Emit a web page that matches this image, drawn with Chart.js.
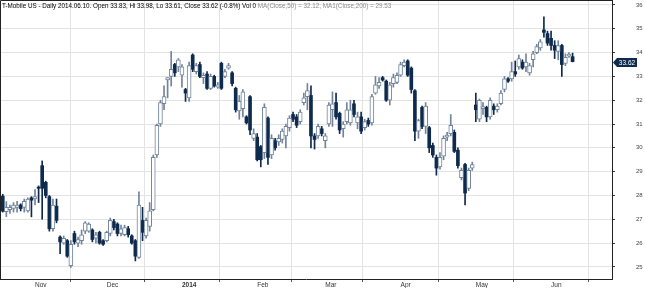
<!DOCTYPE html>
<html lang="en">
<head>
<meta charset="UTF-8">
<title>T-Mobile US - Daily</title>
<script src="https://cdn.jsdelivr.net/npm/chart.js@4.4.0/dist/chart.umd.min.js"></script>
<style>
  html, body { margin: 0; padding: 0; background: #fff; }
  canvas { display: block; }
</style>
</head>
<body>
<canvas id="tmus" width="645" height="288"></canvas>
<script>
// daily OHLC, 2013-10-21 .. 2014-06-10, one entry per trading day
const opens = [
  27.97, 27.32, 27.40, 27.45, 27.50, 27.60, 27.50, 27.35, 27.90, 27.85,
  28.35, 29.25, 28.55, 27.95, 26.60, 27.55, 26.25, 26.00, 26.10, 25.05,
  26.40, 26.00, 26.10, 26.50, 26.50, 26.55, 26.20, 26.45, 26.10, 26.10,
  26.40, 26.90, 26.80, 26.40, 26.35, 26.60, 26.30, 26.10, 25.40, 26.95,
  26.30, 26.70, 27.40, 29.70, 31.00, 31.85, 32.85, 33.00, 33.50, 33.40,
  33.05, 32.45, 32.10, 33.90, 33.20, 33.50, 32.95, 33.10, 32.50, 33.00,
  32.55, 33.55, 33.00, 33.35, 33.15, 32.50, 31.55, 31.65, 31.30, 32.15,
  30.40, 30.45, 30.05, 29.80, 31.25, 29.70, 30.30, 30.25, 30.35, 30.50,
  30.85, 31.40, 31.30, 31.10, 31.90, 32.15, 32.20, 30.50, 30.50, 30.80,
  30.30, 31.00, 31.60, 31.90, 31.45, 30.80, 31.10, 31.05, 31.85, 31.05,
  31.30, 30.85, 31.15, 31.05, 32.30, 32.60, 32.95, 32.80, 32.00, 32.70,
  32.75, 33.05, 33.45, 33.65, 33.35, 32.40, 30.70, 31.70, 30.90, 30.85,
  30.10, 29.60, 29.20, 29.65, 30.45, 30.60, 30.65, 29.90, 28.75, 29.30,
  28.30, 29.15, 31.80, 31.20, 31.65, 31.70, 31.30, 31.75, 31.60, 31.85,
  32.45, 32.90, 32.90, 33.20, 33.40, 33.60, 33.40, 33.15, 33.70, 34.00,
  34.20, 34.95, 34.80, 34.60, 34.30, 34.05, 34.30, 33.55, 33.85, 33.83
];
const highs = [
  28.05, 27.74, 27.60, 27.70, 27.75, 27.65, 27.85, 27.90, 27.95, 28.25,
  28.40, 29.45, 28.60, 28.00, 27.85, 27.85, 26.30, 26.30, 26.15, 26.10,
  26.50, 26.25, 26.55, 26.90, 26.85, 26.60, 26.45, 26.50, 26.15, 26.50,
  27.05, 27.00, 26.85, 26.75, 26.75, 26.70, 26.35, 26.15, 28.15, 27.50,
  27.05, 27.70, 29.70, 31.00, 32.00, 32.60, 32.95, 34.05, 33.55, 33.75,
  33.50, 32.50, 33.60, 33.95, 33.55, 33.60, 33.15, 33.20, 33.10, 33.05,
  32.75, 33.60, 33.30, 33.55, 33.20, 32.55, 32.20, 32.45, 31.35, 32.20,
  30.80, 30.60, 30.10, 31.85, 31.30, 30.55, 30.40, 30.55, 30.80, 31.00,
  31.35, 31.50, 31.40, 31.60, 32.30, 32.70, 32.60, 30.60, 31.00, 30.90,
  30.60, 31.90, 32.35, 32.30, 31.50, 31.10, 31.90, 32.00, 32.00, 31.50,
  31.50, 31.20, 31.25, 32.25, 33.00, 32.95, 33.00, 32.85, 32.75, 33.10,
  33.15, 33.60, 33.70, 33.70, 33.40, 32.45, 31.20, 31.75, 31.90, 30.90,
  30.20, 29.70, 29.80, 30.50, 30.65, 31.40, 30.75, 30.00, 29.15, 29.35,
  29.15, 29.40, 32.30, 32.05, 31.90, 31.75, 32.10, 31.85, 31.85, 32.40,
  33.00, 32.95, 33.60, 33.65, 33.90, 33.70, 33.95, 33.55, 34.05, 34.35,
  34.55, 35.50, 34.90, 34.90, 34.50, 34.50, 34.35, 33.95, 34.00, 33.98
];
const lows = [
  27.30, 27.11, 27.25, 27.30, 27.30, 27.35, 27.30, 27.30, 27.10, 27.60,
  27.70, 27.00, 27.90, 26.50, 26.50, 26.85, 25.55, 25.95, 25.40, 24.98,
  25.95, 25.85, 25.95, 26.40, 26.45, 26.05, 26.00, 25.95, 25.90, 26.05,
  26.30, 26.55, 26.30, 26.30, 26.30, 26.25, 25.95, 25.25, 25.35, 26.10,
  26.20, 26.50, 27.35, 29.60, 30.90, 31.60, 32.10, 32.60, 33.00, 33.20,
  32.55, 31.95, 31.95, 33.20, 33.10, 32.95, 32.70, 32.45, 32.45, 32.55,
  32.50, 32.45, 32.95, 33.30, 32.60, 31.50, 31.20, 31.30, 31.00, 30.55,
  30.30, 29.45, 29.20, 29.55, 29.30, 29.55, 29.90, 30.10, 30.20, 30.00,
  30.70, 31.10, 30.85, 31.00, 31.80, 31.60, 30.00, 29.95, 30.40, 30.50,
  30.00, 30.90, 30.90, 31.20, 30.60, 30.45, 31.00, 30.95, 31.30, 30.80,
  30.60, 30.75, 30.90, 30.95, 32.25, 32.50, 32.80, 31.95, 31.80, 32.55,
  32.70, 33.00, 33.40, 33.00, 32.30, 30.30, 30.40, 30.80, 30.60, 29.80,
  29.60, 28.85, 29.10, 29.50, 30.30, 30.50, 29.80, 29.15, 28.65, 27.60,
  28.20, 29.05, 31.10, 31.10, 31.40, 31.10, 31.20, 31.40, 31.50, 31.80,
  32.35, 32.75, 32.80, 33.00, 33.30, 33.30, 33.20, 33.05, 33.40, 33.95,
  34.10, 34.65, 34.30, 34.10, 33.75, 33.70, 33.00, 33.45, 33.80, 33.61
];
const closes = [
  27.34, 27.50, 27.50, 27.60, 27.60, 27.45, 27.75, 27.85, 27.80, 27.95,
  28.30, 28.30, 28.00, 26.60, 27.60, 26.95, 26.05, 26.20, 25.45, 25.95,
  26.05, 26.15, 26.35, 26.85, 26.80, 26.15, 26.35, 26.00, 25.95, 26.45,
  26.95, 26.65, 26.40, 26.60, 26.65, 26.35, 26.00, 25.45, 27.60, 26.45,
  26.95, 27.35, 29.60, 30.95, 31.90, 32.15, 32.95, 33.30, 33.15, 33.70,
  33.40, 32.30, 33.45, 33.30, 33.45, 33.00, 33.05, 32.50, 33.00, 32.60,
  32.65, 32.50, 33.20, 33.45, 32.70, 31.60, 31.95, 32.35, 31.05, 30.75,
  30.60, 29.50, 29.50, 31.70, 29.60, 30.40, 30.00, 30.40, 30.70, 30.90,
  31.25, 31.20, 30.95, 31.50, 32.10, 32.40, 30.50, 30.35, 30.90, 30.60,
  30.50, 31.80, 31.85, 31.30, 30.75, 31.00, 31.60, 31.60, 31.40, 31.30,
  30.70, 31.10, 31.00, 32.15, 32.65, 32.75, 32.85, 32.00, 32.65, 32.95,
  33.05, 33.50, 33.60, 33.05, 32.45, 30.70, 31.15, 30.90, 31.75, 30.00,
  29.70, 29.15, 29.60, 30.40, 30.50, 30.95, 29.85, 29.25, 29.05, 28.10,
  29.05, 29.30, 31.60, 32.00, 31.70, 31.30, 32.00, 31.60, 31.75, 32.30,
  32.90, 32.80, 33.20, 33.10, 33.75, 33.35, 33.60, 33.45, 33.95, 34.25,
  34.45, 34.85, 34.40, 34.30, 34.10, 34.30, 33.50, 33.80, 33.90, 33.62
];

// first trading day of each month (index into the arrays above)
const monthTicks = [9, 29, 50, 71, 90, 111, 132, 153];
const monthLabels = ['Nov', 'Dec', '2014', 'Feb', 'Mar', 'Apr', 'May', 'Jun'];
const priceTicks = [25, 26, 27, 28, 29, 30, 31, 32, 33, 34, 35, 36];

const headline = 'T-Mobile US - Daily 2014.06.10. Open 33.83, Hi 33.98, Lo 33.61, Close 33.62 (-0.8%) Vol 0';
const studies = 'MA(Close,50) = 32.12, MA1(Close,200) = 29.53';

const NAVY = '#0e2a4c';
const HOLLOW = '#71849b';
const FONT = "'Liberation Sans', Arial, sans-serif";

const wicks = [], wickColors = [], upBodies = [], downBodies = [];
for (let i = 0; i < closes.length; i++) {
  const up = closes[i] >= opens[i];
  wicks.push({ x: i, y: [lows[i], highs[i]] });
  wickColors.push(up ? HOLLOW : NAVY);
  const body = { x: i, y: [Math.min(opens[i], closes[i]), Math.max(opens[i], closes[i])] };
  (up ? upBodies : downBodies).push(body);
}

// left/top frame, header text and last price marker
const decorations = {
  id: 'decorations',
  afterDraw(chart) {
    const { ctx, chartArea: a } = chart;
    const y = chart.scales.y;
    ctx.save();
    ctx.strokeStyle = '#222';
    ctx.lineWidth = 1;
    ctx.beginPath();
    ctx.moveTo(0.5, a.bottom);
    ctx.lineTo(0.5, 0.5);
    ctx.lineTo(a.right, 0.5);
    ctx.stroke();

    ctx.font = '6.3px ' + FONT;
    ctx.textBaseline = 'alphabetic';
    ctx.fillStyle = '#000';
    ctx.fillText(headline, 2, 7.5);
    const w = ctx.measureText(headline + ' ').width;
    ctx.fillStyle = '#8c8c8c';
    ctx.fillText(studies, 2 + w, 7.5);

    const last = closes[closes.length - 1];
    const py = Math.round(y.getPixelForValue(last)) + 0.5;
    const x0 = a.right + 1;
    ctx.fillStyle = NAVY;
    ctx.beginPath();
    ctx.moveTo(x0, py);
    ctx.lineTo(x0 + 4, py - 4.5);
    ctx.lineTo(x0 + 24, py - 4.5);
    ctx.lineTo(x0 + 24, py + 4.5);
    ctx.lineTo(x0 + 4, py + 4.5);
    ctx.closePath();
    ctx.fill();
    ctx.fillStyle = '#fff';
    ctx.font = '6.5px ' + FONT;
    ctx.textAlign = 'center';
    ctx.textBaseline = 'middle';
    ctx.fillText(last.toFixed(2), x0 + 14, py + 0.5);
    ctx.restore();
  }
};

new Chart(document.getElementById('tmus'), {
  type: 'bar',
  data: {
    datasets: [
      {
        label: 'High-Low',
        data: wicks,
        backgroundColor: wickColors,
        barThickness: 1,
        grouped: false,
        order: 3
      },
      {
        label: 'Up',
        data: upBodies,
        backgroundColor: '#fff',
        borderColor: HOLLOW,
        borderWidth: 1,
        borderSkipped: false,
        barThickness: 4,
        minBarLength: 2,
        grouped: false,
        order: 1
      },
      {
        label: 'Down',
        data: downBodies,
        backgroundColor: NAVY,
        borderWidth: 0,
        barThickness: 3,
        minBarLength: 1,
        grouped: false,
        order: 2
      }
    ]
  },
  options: {
    responsive: false,
    animation: false,
    layout: { padding: 0 },
    plugins: {
      legend: { display: false },
      tooltip: { enabled: false }
    },
    scales: {
      x: {
        type: 'linear',
        position: 'bottom',
        min: -0.77,
        max: 170,
        offset: false,
        afterBuildTicks: s => { s.ticks = monthTicks.map(v => ({ value: v })); },
        afterFit: s => { s.height = 9; s.paddingLeft = 0; s.paddingRight = 0; },
        grid: { color: '#e3e3e3', tickColor: '#555', tickLength: 3 },
        border: { color: '#222', width: 1 },
        ticks: {
          autoSkip: false,
          maxRotation: 0,
          align: 'start',
          padding: -1,
          color: '#333',
          font: ctx => ({ family: FONT, size: 6.5, weight: ctx.tick && ctx.tick.label === '2014' ? 'bold' : 'normal' }),
          callback: (v, i) => monthLabels[i]
        }
      },
      y: {
        position: 'right',
        min: 24.49,
        max: 36.21,
        afterBuildTicks: s => { s.ticks = priceTicks.map(v => ({ value: v })); },
        afterFit: s => { s.width = 33; s.paddingTop = 0; s.paddingBottom = 0; },
        grid: { color: '#e3e3e3', tickColor: '#333', tickLength: 3 },
        border: { color: '#222', width: 1 },
        ticks: {
          padding: 21,
          color: '#444',
          font: { family: FONT, size: 6 },
          callback: v => v
        }
      }
    }
  },
  plugins: [decorations]
});
</script>
</body>
</html>
